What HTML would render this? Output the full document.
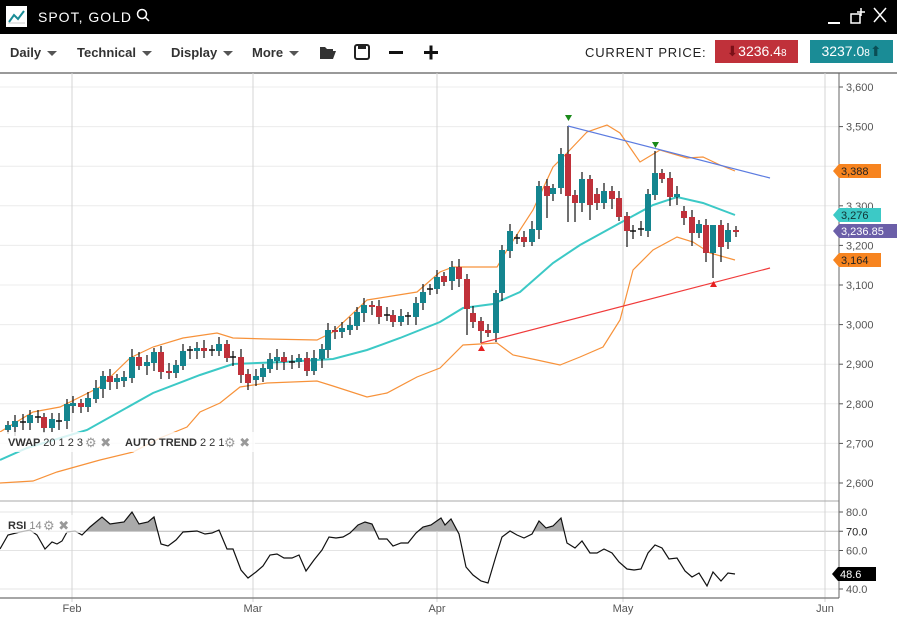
<!DOCTYPE html>
<html><head><meta charset="utf-8"><style>
body{margin:0;width:897px;height:621px;overflow:hidden;background:#fff;font-family:"Liberation Sans",sans-serif;position:relative}
.top{position:absolute;left:0;top:0;width:897px;height:34px;background:#000}
.tb{position:absolute;top:34px;left:0;width:897px;height:38px;border-bottom:2px solid #999;background:#fff}
.m{position:absolute;top:11px;font-size:13px;font-weight:bold;color:#333}
.m:after{content:"";display:inline-block;margin-left:6px;border-left:5px solid transparent;border-right:5px solid transparent;border-top:5px solid #555;vertical-align:middle}
svg{position:absolute;left:0;top:0}
</style></head><body>
<div class="top">
 <div style="position:absolute;left:6px;top:6px;width:21px;height:21px;background:#fff"></div>
 <svg width="30" height="30" style="left:6px;top:6px"><polyline points="3,16 8,9 12,13 18,5" fill="none" stroke="#1a8c96" stroke-width="2"/><line x1="2" y1="17" x2="19" y2="17" stroke="#ccc"/></svg>
 <div style="position:absolute;left:38px;top:9px;color:#fff;font-size:14px;letter-spacing:1px">SPOT, GOLD</div>
 <svg width="20" height="20" style="left:135px;top:7px"><circle cx="7" cy="7" r="4.5" fill="none" stroke="#fff" stroke-width="1.5"/><line x1="10" y1="10" x2="14" y2="14" stroke="#fff" stroke-width="1.5"/></svg>
 <svg width="70" height="30" style="left:825px;top:4px"><line x1="3" y1="19" x2="15" y2="19" stroke="#fff" stroke-width="2"/><rect x="26" y="10" width="9" height="9" fill="none" stroke="#fff" stroke-width="1.5"/><path d="M36 4v8M32 8h8" stroke="#fff" stroke-width="1.5"/><path d="M49 4l12 14M61 4l-12 14" stroke="#fff" stroke-width="1.5"/></svg>
</div>
<div class="tb">
 <span class="m" style="left:10px">Daily</span>
 <span class="m" style="left:77px">Technical</span>
 <span class="m" style="left:171px">Display</span>
 <span class="m" style="left:252px">More</span>
 <svg width="130" height="30" style="left:318px;top:4px"><path d="M2 9h5l2 2h6v2H6l-3 8H2z" fill="#333"/><path d="M5 13h13l-3 8H2z" fill="#333"/><rect x="37" y="7" width="14" height="14" rx="2" fill="none" stroke="#222" stroke-width="2"/><rect x="40" y="7" width="8" height="4" fill="#222"/><rect x="71" y="13" width="14" height="3" fill="#111"/><rect x="106" y="13" width="14" height="3" fill="#111"/><rect x="111.5" y="7.5" width="3" height="14" fill="#111"/></svg>
 <div style="position:absolute;left:585px;top:11px;font-size:13px;color:#222;letter-spacing:0.8px">CURRENT PRICE:</div>
 <div style="position:absolute;left:715px;top:6px;width:83px;height:23px;background:#c0313a;color:#fff;font-size:14px;line-height:22px;text-align:center"><span style="color:#7a1018">&#x2B07;</span>3236.4<span style="font-size:10px">8</span></div>
 <div style="position:absolute;left:810px;top:6px;width:83px;height:23px;background:#1a8c96;color:#fff;font-size:14px;line-height:22px;text-align:center">3237.0<span style="font-size:10px">8</span><span style="color:#0a4e55">&#x2B06;</span></div>
</div>
<svg id="c" width="897" height="621" style="top:0"></svg>
<script>
var s='';
function Y(v){return 87+(3600-v)*0.396}
function R(v){return 512+(80-v)*1.925}
for(var v=2600;v<=3600;v+=100){var y=Y(v);s+='<line x1="0" y1="'+y+'" x2="839" y2="'+y+'" stroke="#ececec"/>';if(v!=3400)s+='<line x1="839" y1="'+y+'" x2="843" y2="'+y+'" stroke="#555"/><text x="846" y="'+(y+4)+'" font-size="11" fill="#555">'+(v/1000|0)+','+String(v%1000).padStart(3,'0')+'</text>';}
[80,70,60,40].forEach(function(v){var y=R(v);s+='<line x1="0" y1="'+y+'" x2="839" y2="'+y+'" stroke="'+(v==70?'#bbb':'#e4e4e4')+'"/><line x1="839" y1="'+y+'" x2="843" y2="'+y+'" stroke="#555"/><text x="846" y="'+(y+4)+'" font-size="11" fill="'+(v==70?'#222':'#555')+'">'+v+'.0</text>';});
[[72,'Feb'],[253,'Mar'],[437,'Apr'],[623,'May'],[825,'Jun']].forEach(function(d){s+='<line x1="'+d[0]+'" y1="73" x2="'+d[0]+'" y2="602" stroke="#d4d4d4"/><text x="'+d[0]+'" y="612" font-size="11" fill="#555" text-anchor="middle">'+d[1]+'</text>';});
s+='<line x1="0" y1="501" x2="839" y2="501" stroke="#aaa"/><line x1="0" y1="598" x2="839" y2="598" stroke="#888" stroke-width="1.5"/><line x1="839" y1="73" x2="839" y2="598" stroke="#666"/>';
function pl(p,c,w){return '<polyline points="'+p+'" fill="none" stroke="'+c+'" stroke-width="'+w+'"/>'}
s+=pl("0,483 33,481 57,472 100,460 133,452 160,438 187,427 200,412 220,403 240,387 267,383 317,381 333,386 367,397 387,393 417,377 440,368 463,345 497,343 513,355 537,360 560,365 580,357 603,347 620,320 633,270 653,250 677,237 693,242 710,253 735,260","#f7923a",1.2);
s+=pl("0,432 33,412 60,407 100,387 130,358 153,347 183,338 217,333 233,338 267,339 317,340 333,332 367,300 417,292 440,272 453,267 497,267 507,250 533,210 553,167 567,153 587,132 607,125 620,133 640,162 660,150 687,158 703,157 720,165 735,171","#f7923a",1.2);
s+=pl("0,460 27,448 87,430 153,393 200,375 233,364 283,362 333,359 367,350 400,338 440,322 463,308 493,304 520,292 553,263 580,245 620,223 653,205 677,197 703,203 735,215","#3cc9c6",2);
var C=[[8,430,425],[15,427,421],[23,422,422],[30,423,415],[38,417,417],[44,417,428],[52,428,419],[59,421,421],[67,421,404],[73,406,403],[81,403,407],[88,407,398],[96,399,388],[103,389,376],[110,376,382],[117,382,378],[124,381,377],[132,378,357],[139,357,366],[147,366,362],[154,363,352],[161,352,372],[169,371,373],[176,373,365],[183,366,351],[190,350,350],[197,351,348],[204,348,351],[212,350,350],[219,351,344],[227,344,358],[233,357,357],[241,357,375],[248,374,383],[256,380,376],[263,377,368],[270,369,359],[277,361,357],[284,357,362],[292,362,362],[299,362,358],[307,358,371],[314,371,358],[322,359,349],[328,350,330],[335,330,332],[342,332,328],[350,330,325],[357,326,312],[364,313,305],[372,305,307],[379,306,317],[387,315,315],[393,315,322],[401,322,316],[408,316,316],[416,317,303],[423,303,292],[430,289,289],[437,289,277],[444,276,282],[452,281,267],[459,267,279],[467,279,309],[473,313,322],[481,321,331],[488,330,333],[496,333,293],[502,293,250],[510,251,231],[517,238,238],[524,237,242],[532,242,229],[539,230,186],[547,186,196],[553,194,188],[561,188,154],[568,154,196],[575,195,203],[582,203,179],[590,179,205],[597,194,203],[604,203,191],[612,191,199],[619,198,217],[627,216,231],[633,231,231],[641,229,229],[648,231,194],[655,195,173],[662,173,179],[670,178,197],[677,197,194],[684,211,218],[692,217,233],[699,233,224],[706,225,253],[713,253,225],[721,225,247],[728,242,230],[736,230,231]];
var HI={568:126,655:151,713:235,496:290};var LO={481:343,713:278,568:222,467:335,627:247,548:218,547:218,590:220,612:209,575:222,692:246,706:262,721:262};
C.forEach(function(c,i){var x=c[0],o=c[1],cl=c[2],t=Math.min(o,cl),b=Math.max(o,cl);var h=HI[x]||t-4-(i*7%5),l=LO[x]||b+4+(i*5%6);var col=cl<o?'#14858f':'#c0313a';
s+='<line x1="'+x+'" y1="'+h+'" x2="'+x+'" y2="'+l+'" stroke="#111" stroke-width="1.2"/>';
if(o==cl)s+='<line x1="'+(x-3)+'" y1="'+o+'" x2="'+(x+3)+'" y2="'+o+'" stroke="#111" stroke-width="1.5"/>';else s+='<rect x="'+(x-3)+'" y="'+t+'" width="6" height="'+Math.max(b-t,2)+'" fill="'+col+'"/>';});
s+='<line x1="568" y1="126" x2="770" y2="178" stroke="#5b7be0" stroke-width="1.2"/><line x1="481" y1="343" x2="770" y2="268" stroke="#f03a3a" stroke-width="1.2"/>';
s+='<path d="M565 115h7l-3.5 6z" fill="#1a8a1a"/><path d="M652 142h7l-3.5 6z" fill="#1a8a1a"/><path d="M478 351h7l-3.5-6z" fill="#e62020"/><path d="M710 287h7l-3.5-6z" fill="#e62020"/>';
var rp="0,549 8,535 20,532 30,530 37,535 45,549 52,542 57,544 62,541 67,532 75,531 82,535 90,527 102,517 110,524 124,522 132,512 139,524 148,522 154,517 161,544 168,546 176,540 183,532 197,531 205,534 212,533 219,530 227,549 233,549 241,570 248,578 256,572 263,566 270,555 277,554 284,558 292,558 299,555 306,571 314,560 322,550 329,537 336,538 343,537 350,533 358,525 365,522 372,524 379,539 387,539 393,546 401,543 408,543 416,533 423,527 431,525 441,518 445,525 451,519 459,534 466,567 473,575 481,581 488,583 496,556 502,537 510,531 517,535 524,538 532,534 539,521 546,528 553,526 561,518 567,543 575,548 582,541 590,553 597,553 604,549 612,553 619,562 627,569 634,570 641,569 648,553 655,545 662,548 669,559 677,558 685,571 692,577 699,573 707,586 713,572 721,581 728,573 735,574";
s+='<defs><clipPath id="k"><rect x="0" y="500" width="839" height="31"/></clipPath></defs>';
s+='<polygon points="0,531 '+rp+' 735,531" fill="#aaa" clip-path="url(#k)"/>';
s+=pl(rp,"#111",1.2);
function tag(y,x,w,bg,t,fc){return '<path d="M'+x+' '+y+'l6 -7h'+w+'v14h-'+w+'z" fill="'+bg+'"/><text x="'+(x+8)+'" y="'+(y+4)+'" font-size="11" fill="'+fc+'">'+t+'</text>';}
s+=tag(171,833,42,'#f7841f','3,388','#222')+tag(215,833,42,'#3cc9c6','3,276','#133')+tag(231,833,58,'#6b5fa8','3,236.85','#fff')+tag(260,833,42,'#f7841f','3,164','#222')+tag(574,832,38,'#000','48.6','#fff');
s+='<rect x="0" y="432" width="255" height="20" fill="#fff" opacity="0.8"/><text x="8" y="446" font-size="11" font-weight="bold" fill="#333">VWAP <tspan font-weight="normal">20 1 2 3</tspan></text><text x="85" y="447" font-size="13" fill="#999">&#x2699; &#x2716;</text><text x="125" y="446" font-size="11" font-weight="bold" fill="#333">AUTO TREND <tspan font-weight="normal">2 2 1</tspan></text><text x="224" y="447" font-size="13" fill="#999">&#x2699; &#x2716;</text>';
s+='<rect x="0" y="515" width="80" height="18" fill="#fff" opacity="0.7"/><text x="8" y="529" font-size="11" font-weight="bold" fill="#333">RSI <tspan font-weight="normal" fill="#888">14</tspan></text><text x="43" y="530" font-size="13" fill="#999">&#x2699; &#x2716;</text>';
document.getElementById('c').innerHTML=s;
</script>
</body></html>
